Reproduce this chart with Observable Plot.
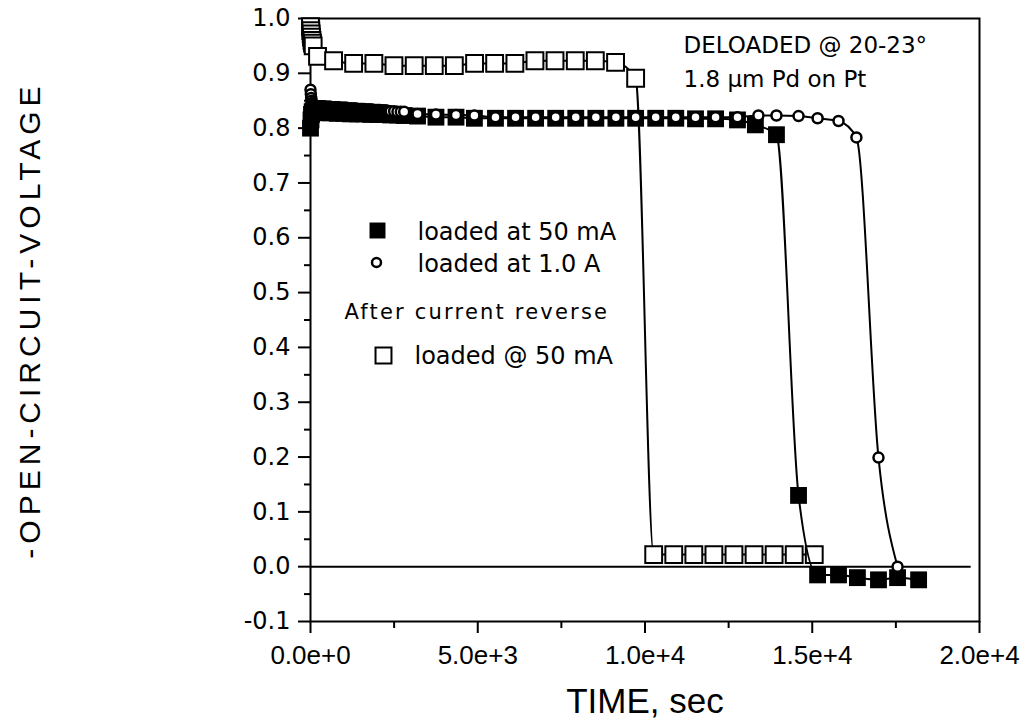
<!DOCTYPE html>
<html><head><meta charset="utf-8">
<script src="https://cdn.jsdelivr.net/npm/d3@7"></script>
<script src="https://cdn.jsdelivr.net/npm/@observablehq/plot@0.6"></script>
<style>
body{margin:0;background:#fff;}
</style></head><body><div id="chart"></div>
<script>
// Filled squares: loaded at 50 mA
const load50T = [0, 15, 30, 50, 80, 120, 200, 300, 450, 600, 800, 1000, 1200, 1400, 1600, 1800, 2000, 2200, 2400, 2600, 2800,
  3200, 3750, 4350, 4900, 5530, 6130, 6730, 7330, 7930, 8530, 9130, 9720, 10320, 10920, 11510, 12110, 12765, 13300, 13930,
  14590, 15160, 15785, 16350, 16980, 17550, 18180];
const load50V = [0.80, 0.815, 0.825, 0.83, 0.832, 0.83, 0.83, 0.83, 0.828, 0.828, 0.827, 0.827, 0.826, 0.826, 0.826, 0.825, 0.825, 0.825, 0.824, 0.824, 0.823,
  0.822, 0.82, 0.82, 0.818, 0.818, 0.818, 0.818, 0.818, 0.818, 0.818, 0.818, 0.818, 0.818, 0.818, 0.817, 0.817, 0.815, 0.806, 0.788,
  0.13, -0.015, -0.015, -0.02, -0.024, -0.02, -0.024];

// Open circles: loaded at 1.0 A (densely sampled at the start)
const load1AT = [0, 10, 20, 35, 50, 70, 100, 130, 160, 200, 240, 280, 320, 360, 400, 440, 480, 520, 560, 600,
  640, 680, 720, 760, 800, 840, 880, 920, 960, 1000, 1040, 1080, 1120, 1160, 1200, 1240, 1280, 1320, 1360, 1400,
  1440, 1480, 1520, 1560, 1600, 1640, 1680, 1720, 1760, 1800, 1840, 1880, 1920, 1960, 2000, 2040, 2080, 2120, 2160, 2200,
  2240, 2280, 2320, 2360, 2400, 2500, 2600, 2700, 2800,
  3200, 3750, 4350, 4900, 5530, 6130, 6730, 7330, 7930, 8530, 9130, 9720, 10320, 10920, 11510, 12110, 12765, 13390, 13930,
  14590, 15160, 15785, 16320, 16980, 17550];
const load1AV = [0.87, 0.862, 0.855, 0.85, 0.846, 0.843, 0.842, 0.841, 0.841, 0.84, 0.84, 0.84, 0.84, 0.84, 0.84, 0.839, 0.839, 0.839, 0.839, 0.839,
  0.838, 0.838, 0.838, 0.838, 0.838, 0.838, 0.837, 0.837, 0.837, 0.837, 0.837, 0.837, 0.836, 0.836, 0.836, 0.836, 0.836, 0.836, 0.836, 0.835,
  0.835, 0.835, 0.835, 0.835, 0.835, 0.834, 0.834, 0.834, 0.834, 0.834, 0.834, 0.833, 0.833, 0.833, 0.833, 0.833, 0.833, 0.832, 0.832, 0.832,
  0.832, 0.832, 0.831, 0.831, 0.831, 0.831, 0.83, 0.83, 0.83,
  0.826, 0.825, 0.824, 0.823, 0.82, 0.82, 0.82, 0.82, 0.82, 0.82, 0.82, 0.82, 0.82, 0.82, 0.82, 0.82, 0.82, 0.823, 0.823,
  0.822, 0.818, 0.813, 0.783, 0.199, 0.0];

// Open squares: after current reverse, loaded @ 50 mA
const revT = [0, 10, 20, 30, 45, 60, 80, 210,
  690, 1290, 1895, 2495, 3100, 3700, 4300, 4905, 5505, 6110, 6710, 7310, 7915, 8515, 9120, 9720,
  10260, 10860, 11460, 12060, 12660, 13260, 13860, 14460, 15060];
const revV = [0.985, 0.978, 0.972, 0.966, 0.96, 0.955, 0.95, 0.931,
  0.923, 0.918, 0.918, 0.914, 0.914, 0.914, 0.914, 0.918, 0.918, 0.918, 0.923, 0.923, 0.923, 0.923, 0.920, 0.891,
  0.022, 0.022, 0.022, 0.022, 0.022, 0.022, 0.022, 0.022, 0.022];

const xTicks = [0, 5000, 10000, 15000, 20000];
const xMinor = [2500, 7500, 12500, 17500];
const yTicks = [-0.1, 0.0, 0.1, 0.2, 0.3, 0.4, 0.5, 0.6, 0.7, 0.8, 0.9, 1.0];
const yMinor = [-0.05, 0.05, 0.15, 0.25, 0.35, 0.45, 0.55, 0.65, 0.75, 0.85, 0.95];

const legendLabels = ["loaded at 50 mA", "loaded at 1.0 A", "After current reverse", "loaded @ 50 mA"];
const noteLines = ["DELOADED @ 20-23°", "1.8 µm Pd on Pt"];
const xTitle = "TIME, sec";
const yTitle = "-OPEN-CIRCUIT-VOLTAGE";

const ser = (T, V) => T.map((t, i) => ({t, v: V[i]}));
const s50 = ser(load50T, load50V);
const s1A = ser(load1AT, load1AV);
const sRev = ser(revT, revV);

const lineOpts = {x: "t", y: "v", curve: "monotone-x", stroke: "black", strokeWidth: 2};
const tl = {frameAnchor: "top-left", textAnchor: "start", lineAnchor: "middle"};

const chart = Plot.plot({
  width: 1027, height: 723,
  marginLeft: 310, marginRight: 48, marginTop: 18, marginBottom: 102,
  x: {domain: [0, 20000], label: null},
  y: {domain: [-0.1, 1.0], label: null},
  style: {fontFamily: "DejaVu Sans", fontSize: "23px", background: "white", color: "black"},
  marks: [
    Plot.ruleY([0], {x1: 0, x2: 19750, stroke: "black", strokeWidth: 2}),
    Plot.axisY(yMinor, {tickSize: 6, tickFormat: () => "", strokeWidth: 2, label: null}),
    Plot.axisY(yTicks, {tickSize: 12, tickPadding: 8, tickFormat: d => d.toFixed(1), strokeWidth: 2, fontSize: 24, label: null}),
    Plot.axisX(xMinor, {tickSize: 7, tickFormat: () => "", strokeWidth: 2, label: null}),
    Plot.axisX(xTicks, {tickSize: 12, tickPadding: 12, tickFormat: d => d.toExponential(1), strokeWidth: 2, fontFamily: "Liberation Sans", fontSize: 26, label: null}),
    Plot.frame({stroke: "black", strokeWidth: 2}),
    Plot.line(sRev, lineOpts),
    Plot.dot(sRev, {x: "t", y: "v", symbol: "square", r: 9.5, fill: "white", stroke: "black", strokeWidth: 2}),
    Plot.line(s50, lineOpts),
    Plot.dot(s50, {x: "t", y: "v", symbol: "square", r: 9.5, fill: "black", stroke: "none"}),
    Plot.line(s1A, lineOpts),
    Plot.dot(s1A, {x: "t", y: "v", symbol: "circle", r: 5, fill: "white", stroke: "black", strokeWidth: 2.5}),
    // legend
    Plot.dot([legendLabels[0]], {frameAnchor: "top-left", dx: 67, dy: 212, symbol: "square", r: 9, fill: "black"}),
    Plot.dot([legendLabels[1]], {frameAnchor: "top-left", dx: 66, dy: 244, symbol: "circle", r: 4.5, fill: "white", stroke: "black", strokeWidth: 2.5}),
    Plot.dot([legendLabels[3]], {frameAnchor: "top-left", dx: 73, dy: 337, symbol: "square", r: 9, fill: "white", stroke: "black", strokeWidth: 2}),
    Plot.text([legendLabels[0]], {...tl, dx: 107, dy: 214, fontSize: 24}),
    Plot.text([legendLabels[1]], {...tl, dx: 107, dy: 246, fontSize: 24}),
    Plot.text([legendLabels[2]], {...tl, dx: 34, dy: 294, fontSize: 21}),
    Plot.text([legendLabels[3]], {...tl, dx: 104, dy: 338, fontSize: 24}),
    Plot.text([noteLines[0]], {...tl, dx: 373, dy: 27}),
    Plot.text([noteLines[1]], {...tl, dx: 373, dy: 61}),
    // axis titles
    Plot.text([yTitle], {frameAnchor: "left", textAnchor: "middle", lineAnchor: "middle", dx: -280, rotate: -90, fontFamily: "Liberation Sans", fontSize: 30}),
    Plot.text([xTitle], {frameAnchor: "bottom", lineAnchor: "middle", dy: 80, fontFamily: "Liberation Sans", fontSize: 35})
  ]
});
d3.select(chart).selectAll("text").each(function() {
  const t = this.textContent;
  if (t === yTitle) this.setAttribute("letter-spacing", "5");
  if (t === legendLabels[2]) this.setAttribute("letter-spacing", "2.2");
});
document.getElementById("chart").appendChild(chart);
</script></body></html>
